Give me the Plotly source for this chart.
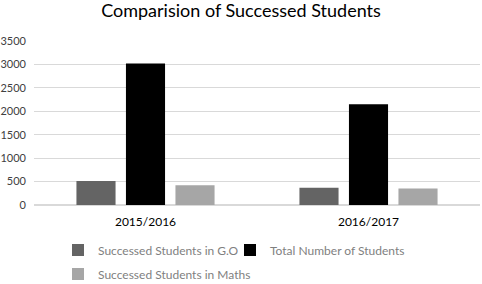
import plotly.graph_objects as go

categories = ["2015/2016", "2016/2017"]
series_names = ["Successed Students in G.O", "Total Number of Students", "Successed Students in Maths"]
go_values = [510, 370]
total_values = [3020, 2150]
maths_values = [420, 350]
colors = ["#646464", "#000000", "#a6a6a6"]
y_ticks = [0, 500, 1000, 1500, 2000, 2500, 3000, 3500]

font_family = "Lato, Noto Sans, sans-serif"
legend_ids = ["legend", "legend2", "legend3"]
# legend anchor positions in container pixels (left x, center y)
legend_pos = [(58, 250), (230, 250), (58, 274)]

fig = go.Figure()
for name, vals, c, lid in zip(series_names, [go_values, total_values, maths_values], colors, legend_ids):
    fig.add_trace(go.Bar(x=categories, y=vals, name=name, legend=lid,
                         marker=dict(color=c, line=dict(width=0))))

legend_layout = {}
for lid, (lx, ly) in zip(legend_ids, legend_pos):
    legend_layout[lid] = dict(
        orientation="h", xref="container", yref="container",
        x=lx / 482, xanchor="left", y=1 - ly / 284, yanchor="middle",
        font=dict(family=font_family, size=12, color="#7f7f7f"),
        itemwidth=30, bgcolor="rgba(0,0,0,0)", borderwidth=0)

fig.update_layout(
    width=482, height=284,
    margin=dict(l=34, r=2, t=41, b=79, autoexpand=False),
    paper_bgcolor="white", plot_bgcolor="white",
    barmode="group", bargap=0.334, bargroupgap=0.21,
    title=dict(text="Comparision of Successed Students", x=0.5, xanchor="center",
               y=1 - 11 / 284, yanchor="middle",
               font=dict(family=font_family, size=18, color="#000000")),
    font=dict(family=font_family, size=12, color="#404040"),
    showlegend=True,
    **legend_layout,
)
fig.update_yaxes(range=[0, 3500], tickvals=y_ticks, showgrid=True, gridcolor="#d9d9d9",
                 gridwidth=1, zeroline=True, zerolinecolor="#d9d9d9", showline=False,
                 ticks="", ticklabelstandoff=7, tickfont=dict(size=11, color="#404040"))
fig.update_xaxes(showline=False, ticks="", tickfont=dict(size=12, color="#000000"),
                 ticklabelstandoff=8)

fig.write_html("out.html")
